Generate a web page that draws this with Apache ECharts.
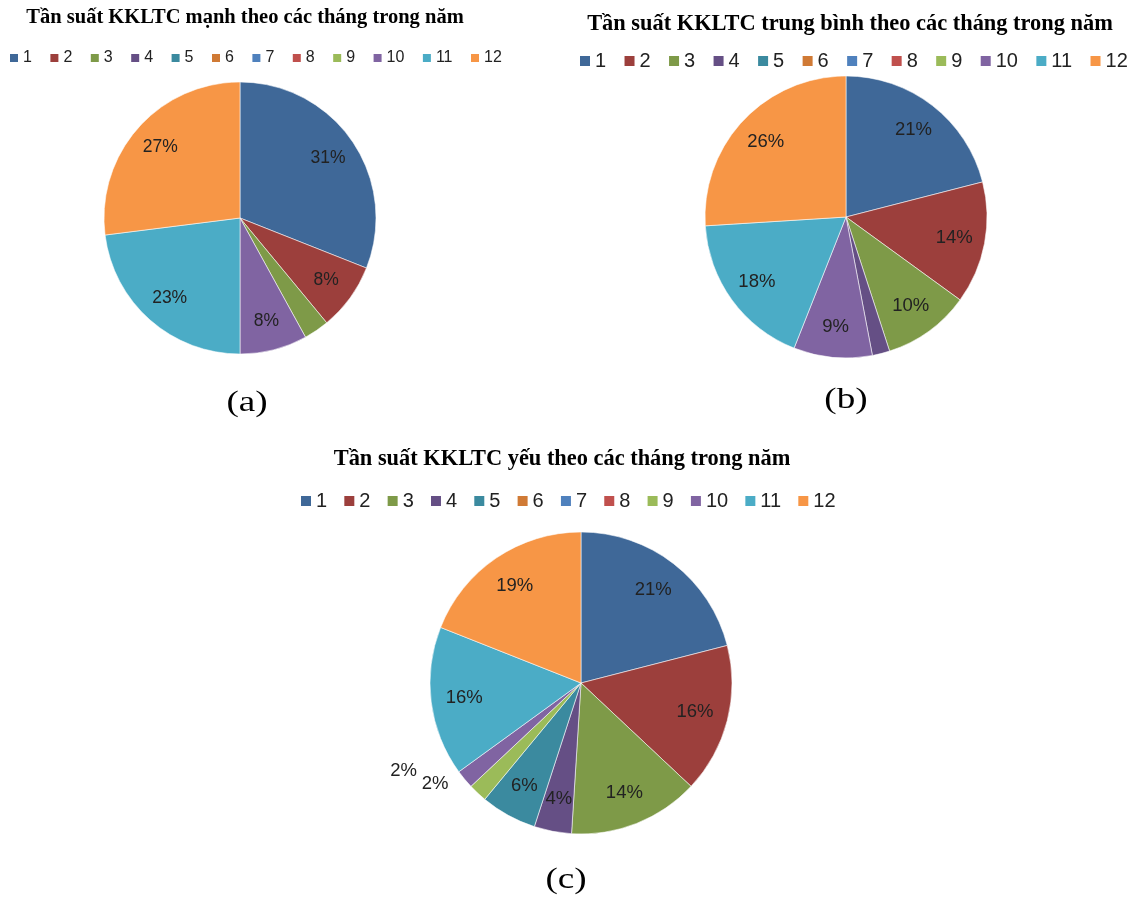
<!DOCTYPE html>
<html>
<head>
<meta charset="utf-8">
<title>Tần suất KKLTC theo các tháng trong năm</title>
<script src="https://cdn.jsdelivr.net/npm/echarts@6/dist/echarts.min.js"></script>
<style>
  html, body { margin: 0; padding: 0; background: #ffffff; }
  #chart { width: 1134px; height: 898px; }
</style>
</head>
<body>
<div id="chart"></div>
<script>
// Months of the year (legend entries / slice names)
const months = ['1', '2', '3', '4', '5', '6', '7', '8', '9', '10', '11', '12'];

// Share of cold-air outbreaks (%) per month, by intensity
const strongShare = [31, 8, 3, 0, 0, 0, 0, 0, 0, 8, 23, 27];
const mediumShare = [21, 14, 10, 2, 0, 0, 0, 0, 0, 9, 18, 26];
const weakShare   = [21, 16, 14, 4, 6, 0, 0, 0, 2, 2, 16, 19];

// Panel titles and captions
const titles = [
  'Tần suất KKLTC mạnh theo các tháng trong năm',
  'Tần suất KKLTC trung bình theo các tháng trong năm',
  'Tần suất KKLTC yếu theo các tháng trong năm'
];
const captions = ['(a)', '(b)', '(c)'];

// Office-style palette: months 1-6 darker shades, 7-12 base accents
const palette = ['#3F6898', '#9C3F3C', '#7E9A48', '#654F85', '#3B8A9F', '#D07A35',
                 '#4F81BD', '#C0504D', '#9BBB59', '#8064A2', '#4BACC6', '#F79646'];

const labelFont = '"Liberation Sans", Arial, sans-serif';
const serifFont = '"Liberation Serif", "Times New Roman", serif';

// Panel geometry; small slices either carry no label or a nudged outer one
const panels = [
  { values: strongShare, center: [240, 218], r: 136, hide: ['3'], outside: {}, labelSize: 17.5,
    legend: { left: 10, top: 50, size: 8, font: 16, gap: 18.5 },
    title: { x: 245, y: 18, size: 20.5 }, caption: { x: 247, y: 403 } },
  { values: mediumShare, center: [846, 217], r: 141, hide: ['4'], outside: {}, labelSize: 18.5,
    legend: { left: 580, top: 51, size: 10, font: 20, gap: 18.4 },
    title: { x: 850, y: 24, size: 22.4 }, caption: { x: 846, y: 400 } },
  { values: weakShare, center: [581, 683], r: 151, hide: [], labelSize: 18.5,
    outside: { '9': [-6, -14], '10': [-24, -12] },
    legend: { left: 301, top: 491, size: 10, font: 20, gap: 17.2 },
    title: { x: 562, y: 459, size: 22.4 }, caption: { x: 566, y: 880 } }
];

function sliceData(p) {
  return months.map((m, i) => ({
    name: m,
    value: p.values[i],
    itemStyle: { color: palette[i], borderWidth: p.values[i] > 0 ? 1 : 0 }
  }));
}

function labelData(p) {
  return months.map((m, i) => {
    const v = p.values[i];
    const item = { name: m, value: v };
    if (v === 0 || p.hide.indexOf(m) >= 0) {
      item.label = { show: false };
    } else if (p.outside[m]) {
      item.label = { show: true, position: 'outside', offset: p.outside[m] };
      item.labelLine = { show: false, length: 6, length2: 14 };
    }
    return item;
  });
}

const series = [];
// Coloured slices
panels.forEach(p => {
  series.push({
    type: 'pie',
    center: p.center,
    radius: [0, p.r],
    startAngle: 90,
    clockwise: true,
    avoidLabelOverlap: false,
    label: { show: false },
    labelLine: { show: false },
    itemStyle: { borderColor: 'rgba(255,255,255,0.55)' },
    emphasis: { disabled: true },
    data: sliceData(p)
  });
});
// Percentage labels, sitting at ~76% of the radius
panels.forEach(p => {
  series.push({
    type: 'pie',
    silent: true,
    center: p.center,
    radius: [p.r * 0.52, p.r],
    startAngle: 90,
    clockwise: true,
    avoidLabelOverlap: false,
    labelLayout: { hideOverlap: false },
    itemStyle: { color: 'rgba(0,0,0,0)', borderWidth: 0 },
    label: {
      show: true,
      position: 'inside',
      formatter: '{c}%',
      fontFamily: labelFont,
      fontSize: p.labelSize,
      color: '#222222'
    },
    labelLine: { show: false },
    emphasis: { disabled: true },
    data: labelData(p)
  });
});

// Legend keys: plain filled squares without the slice outline
const legends = panels.map(p => ({
  data: months.map((m, i) => ({
    name: m,
    itemStyle: { color: palette[i], borderWidth: 0, borderColor: 'rgba(0,0,0,0)' }
  })),
  orient: 'horizontal',
  left: p.legend.left,
  top: p.legend.top,
  icon: 'rect',
  itemWidth: p.legend.size,
  itemHeight: p.legend.size,
  itemGap: p.legend.gap,
  itemStyle: { borderWidth: 0, borderColor: 'rgba(0,0,0,0)' },
  selectedMode: false,
  padding: 0,
  textStyle: { fontFamily: labelFont, fontSize: p.legend.font, color: '#222222' }
}));

const graphics = [];
panels.forEach((p, k) => {
  graphics.push({
    type: 'text', x: p.title.x, y: p.title.y, silent: true,
    style: { text: titles[k], fontFamily: serifFont, fontWeight: 'bold', fontSize: p.title.size,
             fill: '#000000', align: 'center', verticalAlign: 'middle' }
  });
  graphics.push({
    type: 'text', x: p.caption.x, y: p.caption.y, scaleX: 1.28, silent: true,
    style: { text: captions[k], fontFamily: serifFont, fontSize: 29,
             fill: '#000000', align: 'center', verticalAlign: 'middle' }
  });
});

const chart = echarts.init(document.getElementById('chart'), null, { renderer: 'canvas' });
chart.setOption({
  animation: false,
  backgroundColor: '#ffffff',
  legend: legends,
  graphic: graphics,
  series: series
});
</script>
</body>
</html>
